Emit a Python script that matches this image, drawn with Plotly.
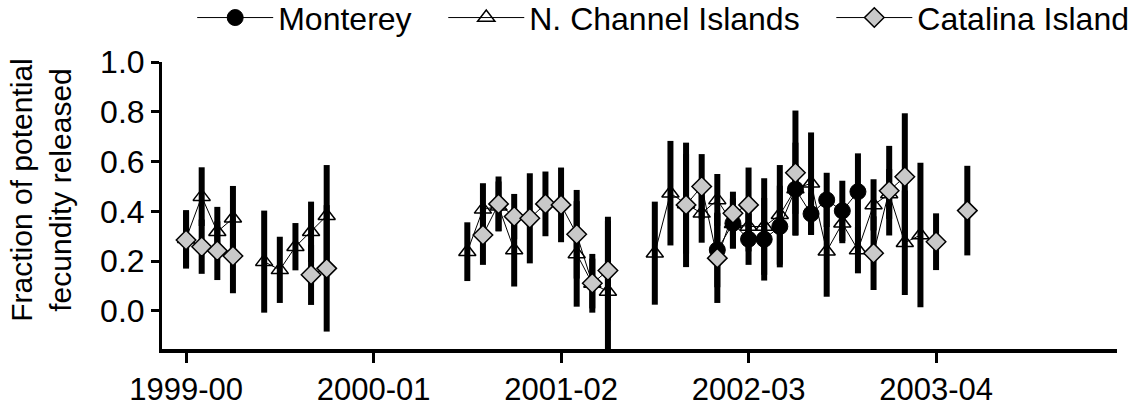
import plotly.graph_objects as go

# x positions are months since the start of the 1999-00 season
tick_vals = [0, 12, 24, 36, 48]
tick_text = ["1999-00", "2000-01", "2001-02", "2002-03", "2003-04"]

# Monterey (filled circles)
mon_months = [34, 35, 36, 37, 38, 39, 40, 41, 42, 43]
mon_vals = [0.245, 0.352, 0.288, 0.288, 0.339, 0.489, 0.39, 0.446, 0.402, 0.479]
mon_err = [0.15, 0.10, 0.103, 0.166, 0.164, 0.187, 0.085, 0.109, 0.121, 0.154]

# N. Channel Islands (open triangles); None breaks the line
nci_months = [0, 1, 2, 3, 4, 5, 6, 7, 8, 9, 10, 18, 19, 20, 21, 22, 25, 26, 27, 28,
              30, 31, 32, 33, 34, 35, 36, 37, 38, 39, 40, 41, 42, 43, 44, 45, 46, 47]
nci_vals = [0.29, 0.459, 0.318, 0.372, None, 0.198, 0.165, 0.258, 0.318, 0.382, None,
            0.238, 0.408, 0.42, 0.245, None, 0.229, 0.11, 0.078, None,
            0.232, 0.473, 0.43, 0.392, 0.446, 0.35, 0.339, 0.339, 0.386, 0.49, 0.513,
            0.24, 0.352, 0.245, 0.426, 0.47, 0.274, 0.305]
nci_err = [0.115, 0.118, 0.10, 0.13, None, 0.205, 0.133, 0.095, 0.121, 0.204, None,
           0.118, 0.105, 0.10, 0.147, None, 0.212, 0.10, 0.30, None,
           0.207, 0.21, 0.20, 0.118, 0.104, 0.10, 0.10, 0.194, 0.20, 0.10, 0.204,
           0.183, 0.08, 0.094, 0.103, 0.10, 0.21, 0.29]

# Catalina Island (grey diamonds); None breaks the line
cat_months = [0, 1, 2, 3, 4, 8, 9, 10, 19, 20, 21, 22, 23, 24, 25, 26, 27, 28,
              32, 33, 34, 35, 36, 37, 39, 40, 44, 45, 46, 47, 48, 49, 50]
cat_vals = [0.285, 0.258, 0.242, 0.221, None, 0.145, 0.171, None,
            0.305, 0.43, 0.379, 0.372, 0.43, 0.426, 0.308, 0.111, 0.162, None,
            0.426, 0.5, 0.212, 0.392, 0.426, None, 0.555, None,
            0.232, 0.483, 0.539, None, 0.278, None, 0.403]
cat_err = [0.115, 0.109, 0.118, 0.15, None, 0.121, 0.254, None,
           0.12, 0.11, 0.091, 0.181, 0.13, 0.15, 0.178, 0.118, 0.20, None,
           0.25, 0.13, 0.18, 0.087, 0.15, None, 0.25, None,
           0.148, 0.18, 0.255, None, 0.114, None, 0.18]

FONT = "Arial, Liberation Sans, sans-serif"
PAD = "\u00a0\u00a0\u00a0"

def ebar(err):
    return dict(type="data", array=err, symmetric=True, color="black",
                thickness=6, width=0)

fig = go.Figure()
fig.add_trace(go.Scatter(
    x=mon_months, y=mon_vals, name="Monterey" + PAD, mode="lines+markers",
    line=dict(color="black", width=1),
    marker=dict(symbol="circle", size=16, color="black", line=dict(color="black", width=1)),
    error_y=ebar(mon_err)))
fig.add_trace(go.Scatter(
    x=nci_months, y=nci_vals, name="N. Channel Islands" + PAD, mode="lines+markers",
    line=dict(color="black", width=1),
    marker=dict(symbol="triangle-up-open", size=15, color="black", line=dict(width=1.5)),
    error_y=ebar(nci_err)))
fig.add_trace(go.Scatter(
    x=cat_months, y=cat_vals, name="Catalina Island", mode="lines+markers",
    line=dict(color="black", width=1),
    marker=dict(symbol="diamond", size=15, color="#c9c9c9", line=dict(color="black", width=1.5)),
    error_y=ebar(cat_err)))

fig.update_layout(
    width=1142, height=409,
    margin=dict(l=162, r=25, t=62, b=60, autoexpand=False),
    paper_bgcolor="white", plot_bgcolor="white",
    font=dict(family=FONT, size=30, color="black"),
    showlegend=True,
    legend=dict(orientation="h", x=1.018, xanchor="right", y=1.25, yanchor="top",
                font=dict(size=32), bgcolor="rgba(0,0,0,0)", traceorder="normal",
                itemwidth=76),
    xaxis=dict(range=[-1.54, 59.58], tickmode="array", tickvals=tick_vals, ticktext=tick_text,
               showgrid=False, zeroline=False, showline=True, linecolor="black", linewidth=4,
               ticks="outside", ticklen=10, tickwidth=3, tickcolor="black",
               tickfont=dict(size=31)),
    yaxis=dict(range=[-0.153, 1.0], tickmode="array",
               tickvals=[0.0, 0.2, 0.4, 0.6, 0.8, 1.0],
               ticktext=["0.0", "0.2", "0.4", "0.6", "0.8", "1.0"],
               showgrid=False, zeroline=False, showline=True, linecolor="black", linewidth=3,
               ticks="outside", ticklen=8, tickwidth=3, tickcolor="black",
               tickfont=dict(size=32)),
    annotations=[dict(text="Fraction of potential<br>fecundity released",
                      xref="paper", yref="paper", x=-0.127, y=0.554,
                      xanchor="center", yanchor="middle", textangle=-90,
                      showarrow=False, font=dict(size=30))],
)

fig.write_html("out.html", config={"displayModeBar": False},
               post_script="document.body.style.margin='0';document.body.style.overflow='hidden';")
